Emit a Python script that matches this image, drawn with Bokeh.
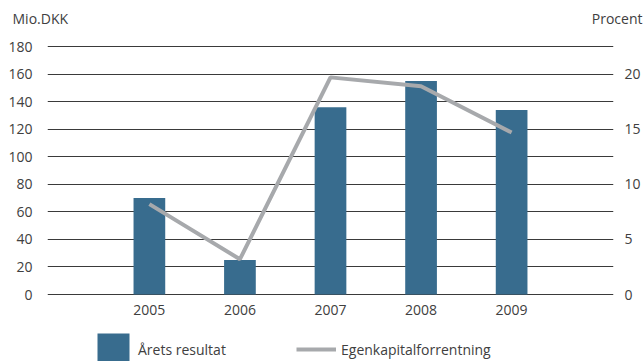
from bokeh.plotting import figure
from bokeh.models import (FactorRange, Range1d, LinearAxis, FixedTicker, Label,
                          Legend, LegendItem)
from bokeh.embed import file_html
from bokeh.resources import INLINE

years = ["2005", "2006", "2007", "2008", "2009"]
result_mio_dkk = [70, 25, 136, 155, 134]
equity_return_pct = [8.2, 3.2, 19.7, 18.9, 14.7]
left_ticks = [0, 20, 40, 60, 80, 100, 120, 140, 160, 180]
right_ticks = [0, 5, 10, 15, 20]

FONT = "Open Sans"
TXT = "#404040"
BAR = "#386c8e"
LINE = "#a7a9ac"

# frame runs from y=45 to the bottom of the canvas; 0 sits at y=294, 180 at y=46
p = figure(width=643, height=361, output_backend="svg", toolbar_location=None,
           x_range=FactorRange(factors=years, range_padding=0.25),
           y_range=Range1d(-48.63, 180.73),
           min_border_left=47, min_border_right=25, min_border_top=45,
           min_border_bottom=0)
p.outline_line_color = None
p.background_fill_color = "white"
p.border_fill_color = "white"

p.extra_y_ranges = {"pct": Range1d(-48.63 / 8, 180.73 / 8)}

# axes
p.yaxis.ticker = FixedTicker(ticks=left_ticks)
p.yaxis.axis_line_color = None
p.yaxis.major_tick_line_color = None
p.yaxis.minor_tick_line_color = None
p.yaxis.major_label_standoff = 9
p.yaxis.major_label_text_font = FONT
p.yaxis.major_label_text_font_size = "14px"
p.yaxis.major_label_text_color = TXT

ax_r = LinearAxis(y_range_name="pct", ticker=FixedTicker(ticks=right_ticks))
ax_r.axis_line_color = None
ax_r.major_tick_line_color = None
ax_r.minor_tick_line_color = None
ax_r.major_label_standoff = 5
ax_r.major_label_text_font = FONT
ax_r.major_label_text_font_size = "14px"
ax_r.major_label_text_color = TXT
p.add_layout(ax_r, "right")

p.xaxis.fixed_location = 0
p.xaxis.axis_line_color = None
p.xaxis.major_tick_line_color = None
p.xaxis.minor_tick_line_color = None
p.xaxis.major_label_standoff = 4
p.xaxis.major_label_text_font = FONT
p.xaxis.major_label_text_font_size = "14px"
p.xaxis.major_label_text_color = TXT

p.xgrid.grid_line_color = None
p.ygrid.grid_line_color = "#3a3a3a"
p.ygrid.grid_line_width = 1

bars = p.vbar(x=years, top=result_mio_dkk, width=0.35, color=BAR, line_color=None)
ln = p.line(x=years, y=equity_return_pct, y_range_name="pct", line_color=LINE,
            line_width=4)

# axis titles (in the panel above the frame)
p.add_layout(Label(x=-35, y=18, x_units="screen", y_units="screen", text="Mio.DKK",
                   text_font=FONT, text_font_size="14px", text_color=TXT,
                   text_baseline="bottom"), "above")
p.add_layout(Label(x=595, y=-1, x_units="screen", y_units="screen", text="Procent",
                   text_font=FONT, text_font_size="14px", text_color=TXT,
                   text_align="right", text_baseline="bottom"), "above")

# legend at the bottom of the frame
legend = Legend(items=[LegendItem(label="Årets resultat", renderers=[bars]),
                       LegendItem(label="Egenkapitalforrentning", renderers=[ln])],
                orientation="horizontal", location=(46, -8),
                glyph_width=40, glyph_height=40, label_height=40, label_standoff=5,
                label_width=150, spacing=8, padding=0, margin=0,
                border_line_color=None, background_fill_alpha=0,
                label_text_font=FONT, label_text_font_size="14px",
                label_text_color=TXT)
p.add_layout(legend, "center")

open("out.html", "w").write(file_html(p, INLINE))
